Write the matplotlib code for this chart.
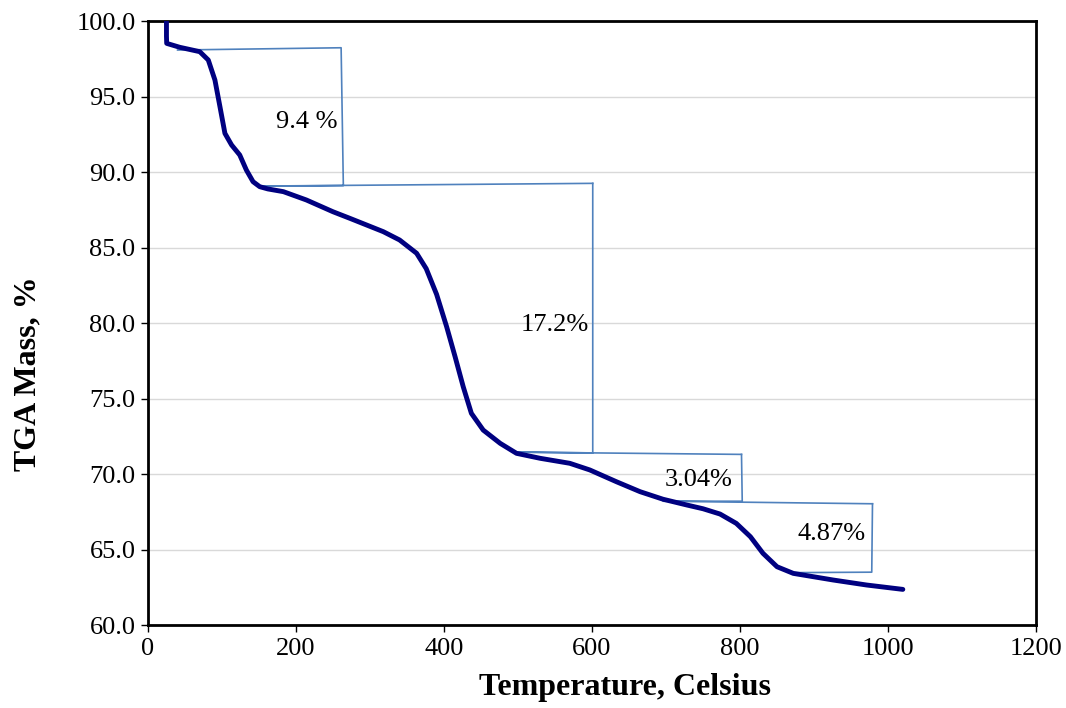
import matplotlib
matplotlib.use("Agg")
import matplotlib.pyplot as plt

plt.rcParams['font.family'] = ['Liberation Serif', 'DejaVu Serif']

# TGA curve
temp = [25, 25, 25.3, 43, 70, 81.5, 90.5, 97.3, 104, 113, 124, 133, 142, 151,
        162, 183, 214, 250, 273, 318, 340, 363, 376, 390, 403.6, 415, 426, 437,
        453, 476, 498, 530, 570, 597, 633, 665, 696, 728, 750, 773, 795, 814,
        831, 850, 872, 926, 971, 1020]
mass = [100.6, 99.0, 98.52, 98.26, 97.97, 97.42, 96.09, 94.32, 92.56, 91.79,
        91.13, 90.13, 89.36, 89.03, 88.88, 88.70, 88.15, 87.37, 86.93, 86.05,
        85.5, 84.62, 83.6, 81.9, 79.75, 77.77, 75.78, 74.02, 72.91, 72.03,
        71.37, 71.04, 70.71, 70.27, 69.49, 68.83, 68.33, 67.95, 67.7, 67.35,
        66.73, 65.85, 64.75, 63.86, 63.42, 62.98, 62.65, 62.36]

# step annotation lines (x, y pairs)
step1_x = [40, 261, 264, 153, 601]
step1_y = [98.08, 98.23, 89.1, 89.07, 89.25]
step2_x = [601, 601, 497, 802]
step2_y = [89.25, 71.4, 71.45, 71.3]
step3_x = [802, 803, 696, 979]
step3_y = [71.3, 68.2, 68.2, 68.03]
step4_x = [979, 978, 872]
step4_y = [68.03, 63.5, 63.47]

labels = ["9.4 %", "17.2%", "3.04%", "4.87%"]
label_x = [215, 550, 744, 924]
label_y = [93.3, 79.9, 69.6, 66.0]

fig = plt.figure(figsize=(10.66, 7.08), dpi=100)
ax = fig.add_axes([0.1388, 0.1172, 0.8331, 0.8531])

line_c = '#4f81bd'
for xs, ys in [(step1_x, step1_y), (step2_x, step2_y), (step3_x, step3_y), (step4_x, step4_y)]:
    ax.plot(xs, ys, color=line_c, lw=1.2, zorder=2)

ax.plot(temp, mass, color='#000080', lw=3.5, solid_capstyle='round',
        solid_joinstyle='round', zorder=3)

for t, x, y in zip(labels, label_x, label_y):
    ax.text(x, y, t, ha='center', va='center', fontsize=19, zorder=4)

ax.set_xlim(0, 1200)
ax.set_ylim(60, 100)
ax.set_xticks(range(0, 1201, 200))
ax.set_yticks(range(60, 101, 5))
ax.set_yticklabels(["%.1f" % v for v in range(60, 101, 5)])
ax.tick_params(labelsize=19, length=5, width=1, direction='out', pad=4)
ax.yaxis.grid(True, color='#d9d9d9', lw=1)
ax.set_axisbelow(True)
for s in ax.spines.values():
    s.set_linewidth(2)

ax.set_xlabel("Temperature, Celsius", fontsize=23, fontweight='bold')
ax.xaxis.set_label_coords(0.537, -0.08)
ax.set_ylabel("TGA Mass, %", fontsize=23, fontweight='bold')
ax.yaxis.set_label_coords(-0.119, 0.417)

plt.savefig("out.png", dpi=100)
